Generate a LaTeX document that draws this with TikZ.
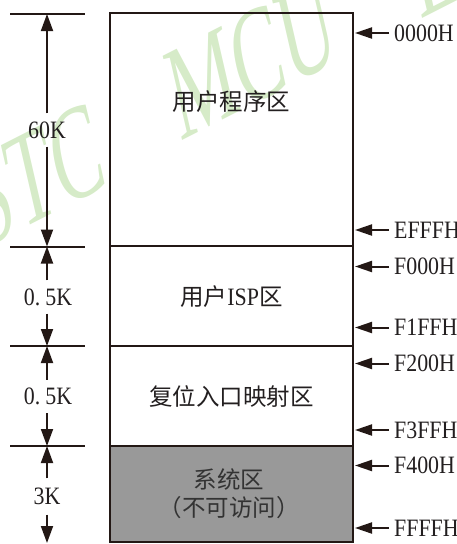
\documentclass[tikz,border=0pt]{standalone}
\usepackage{fontspec}
\usetikzlibrary{arrows.meta}
\setmainfont{Liberation Serif}
\newfontfamily\addrfamily{Liberation Serif}[FakeStretch=0.875]
\newfontfamily\cjkfamily{Noto Sans CJK SC}
\newfontfamily\wmfamily{Liberation Serif}[FakeStretch=0.62,FakeSlant=0.25]
\definecolor{lc}{HTML}{231815}
\definecolor{tc}{HTML}{231F20}
\definecolor{wmc}{HTML}{D6EBC8}
\definecolor{sysgray}{HTML}{999999}
\newcommand{\addrfont}{\addrfamily\fontsize{25}{25}\selectfont}
\newcommand{\cjkfont}{\cjkfamily\fontsize{23.5}{28}\selectfont}
\begin{document}
\begin{tikzpicture}[x=1pt,y=-1pt,
  region/.style={draw=lc, line width=2pt, minimum width=243pt, inner sep=0pt},
  tick/.style={draw=lc, line width=2pt},
  dimarrow/.style={draw=lc, line width=1.8pt, -{Triangle[length=17pt,width=12pt]}},
  addrarrow/.style={draw=lc, line width=2pt, -{Triangle[length=17pt,width=11pt]}},
  addr/.style={anchor=west, inner xsep=5pt, inner ysep=0pt, font=\addrfont, text=tc},
  cn/.style={font=\cjkfont, text=tc, align=center},
  sizelabel/.style={inner sep=0pt, minimum height=33pt, font=\addrfont, text=tc},
  wmtext/.style={anchor=base west, rotate=27, inner sep=0pt, text=wmc,
        font=\wmfamily\fontsize{128}{128}\selectfont}]
\useasboundingbox (0,0) rectangle (456,544);
% watermark
\begin{scope}
  \clip (0,0) rectangle (456,544);
  \node[wmtext] (wm1) at (-20,251) {STC};
  \node[wmtext] (wm2) at (180,142) {MCU};
  \node[wmtext] (wm3) at (420,20) {L};
\end{scope}
% memory regions
\node[region, minimum height=233pt] (r1) at (231.5,129.5) {};
\node[region, minimum height=100pt] (r2) at (231.5,296) {};
\node[region, minimum height=100pt] (r3) at (231.5,396) {};
\node[region, minimum height=96pt, fill=sysgray] (r4) at (231.5,494) {};
\node[cn] (t1) at (231.5,101.5) {用户程序区};
\node[cn] (t2) at (231.5,297) {用户{\addrfont ISP}区};
\node[cn] (t3) at (231.5,396.5) {复位入口映射区};
\node[cn, text=black!80] (t4) at (229,494) {系统区\\（不可访问）};
% ticks on the left
\coordinate (tA) at (47,14);
\coordinate (tB) at (47,246.5);
\coordinate (tC) at (47,346);
\coordinate (tD) at (47,446);
\coordinate (tE) at (47,543);
\foreach \t in {tA,tB,tC,tD}
  \draw[tick] ([xshift=-37pt]\t) -- ([xshift=38pt]\t);
% size labels
\node[sizelabel] (s60) at (47,130) {60K};
\node[sizelabel] (s05a) at (48,297) {0.\hspace{5pt}5K};
\node[sizelabel] (s05b) at (48,396.5) {0.\hspace{5pt}5K};
\node[sizelabel, minimum height=36pt] (s3) at (47,496.5) {3K};
\draw[dimarrow] (s60) -- (tA);
\draw[dimarrow] (s60) -- (tB);
\draw[dimarrow] (s05a.north -| tB) -- (tB);
\draw[dimarrow] (s05a.south -| tC) -- (tC);
\draw[dimarrow] (s05b.north -| tC) -- (tC);
\draw[dimarrow] (s05b.south -| tD) -- (tD);
\draw[dimarrow] (s3) -- (tD);
\draw[dimarrow] (s3) -- (tE);
% addresses on the right
\foreach \n/\y/\txt in {a0/33/0000H, a1/230/EFFFH, a2/266.5/F000H, a3/327.5/F1FFH,
                        a4/363.5/F200H, a5/430/F3FFH, a6/465.5/F400H, a7/528/FFFFH}{
  \coordinate (c\n) at (355,\y);
  \node[addr] (\n) at (389,\y) {\txt};
  \draw[addrarrow] (\n.west) -- (c\n);
}
\end{tikzpicture}
\end{document}
